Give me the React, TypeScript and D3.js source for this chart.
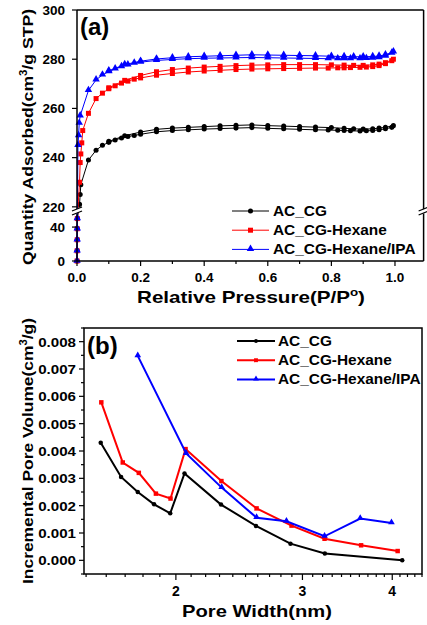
import * as d3 from "d3";

const FONT = "'Liberation Sans', Arial, Helvetica, sans-serif";

// ---- (a) N2 isotherms: adsorption + desorption branches ----
const cgAdsP = [0.0002, 0.0004, 0.0006, 0.0008, 0.001, 0.008, 0.01, 0.012, 0.036, 0.06, 0.08, 0.1, 0.12, 0.14, 0.16, 0.18, 0.2, 0.25, 0.3, 0.35, 0.4, 0.45, 0.5, 0.55, 0.6, 0.65, 0.7, 0.75, 0.79, 0.82, 0.84, 0.86, 0.89, 0.91, 0.93, 0.95, 0.97, 0.99];
const cgAdsQ = [0, 12, 25, 38, 50, 221, 225, 229, 239, 243, 245, 246.2, 247.2, 248, 248.6, 249, 249.5, 250.5, 251, 251.3, 251.6, 251.8, 252, 252.2, 251.9, 251.7, 251.5, 251.3, 251.2, 251.1, 251, 250.9, 250.8, 250.9, 251, 251.3, 251.7, 252.3];
const cgDesP = [0.995, 0.97, 0.95, 0.93, 0.9, 0.87, 0.84, 0.8, 0.75, 0.7, 0.65, 0.6, 0.55, 0.5, 0.45, 0.4, 0.35, 0.3, 0.25, 0.2, 0.15, 0.1];
const cgDesQ = [253, 252.3, 252, 251.7, 251.6, 251.7, 251.9, 252.2, 252.4, 252.6, 252.8, 253, 253.3, 253.1, 252.9, 252.6, 252.3, 252, 251.5, 250.4, 248.9, 246.6];

const hexAdsP = [0.0002, 0.0004, 0.0006, 0.0008, 0.001, 0.008, 0.01, 0.012, 0.015, 0.018, 0.036, 0.06, 0.08, 0.1, 0.12, 0.14, 0.16, 0.18, 0.2, 0.25, 0.3, 0.35, 0.4, 0.45, 0.5, 0.55, 0.6, 0.65, 0.7, 0.75, 0.79, 0.82, 0.84, 0.86, 0.89, 0.91, 0.93, 0.95, 0.97, 0.99];
const hexAdsQ = [0, 12, 25, 38, 50, 230, 238, 241.5, 246, 251, 258, 264, 266.2, 268, 269.2, 270.3, 271.1, 271.9, 272.4, 273.5, 274.2, 274.8, 275.2, 275.5, 275.8, 276, 276.1, 276.2, 276.3, 276.4, 276.4, 276.5, 276.5, 276.6, 276.7, 276.8, 277, 277.4, 278.2, 279.4];
const hexDesP = [0.995, 0.97, 0.95, 0.93, 0.9, 0.87, 0.84, 0.8, 0.75, 0.7, 0.65, 0.6, 0.55, 0.5, 0.45, 0.4, 0.35, 0.3, 0.25, 0.2, 0.15, 0.1];
const hexDesQ = [280, 278.6, 278, 277.7, 277.5, 277.5, 277.6, 277.7, 277.8, 277.8, 277.8, 277.7, 277.6, 277.4, 277.1, 276.8, 276.4, 275.8, 274.9, 273.4, 271.4, 268.4];

const ipaAdsP = [0.0002, 0.0004, 0.0006, 0.0008, 0.001, 0.003, 0.005, 0.007, 0.01, 0.036, 0.06, 0.08, 0.1, 0.12, 0.14, 0.16, 0.18, 0.2, 0.25, 0.3, 0.35, 0.4, 0.45, 0.5, 0.55, 0.6, 0.65, 0.7, 0.75, 0.79, 0.82, 0.84, 0.86, 0.89, 0.91, 0.93, 0.95, 0.97, 0.99];
const ipaAdsQ = [0, 12, 25, 38, 50, 245, 249, 254, 257, 267.3, 271.6, 273.6, 275, 276.1, 277, 277.7, 278.4, 278.8, 279.5, 279.9, 280.2, 280.4, 280.5, 280.6, 280.7, 280.6, 280.5, 280.4, 280.3, 280.2, 280.2, 280.2, 280.2, 280.2, 280.3, 280.4, 280.7, 281.3, 282.5];
const ipaDesP = [0.995, 0.97, 0.95, 0.93, 0.9, 0.87, 0.84, 0.8, 0.75, 0.7, 0.65, 0.6, 0.55, 0.5, 0.45, 0.4, 0.35, 0.3, 0.25, 0.2, 0.15, 0.1];
const ipaDesQ = [283, 281.8, 281.3, 281.1, 281, 281, 281.1, 281.2, 281.4, 281.5, 281.6, 281.7, 281.8, 281.6, 281.4, 281.2, 281, 280.6, 280.1, 279.2, 277.8, 275.3];

const aXTicks = [0, 0.2, 0.4, 0.6, 0.8, 1.0];
const aXMinor = [0.1, 0.3, 0.5, 0.7, 0.9];
const aYTicks = [220, 240, 260, 280, 300, 0, 40];

// ---- (b) pore size distribution ----
const cgW = [1.572, 1.678, 1.77, 1.865, 1.964, 2.056, 2.311, 2.585, 2.887, 3.223, 4.13];
const cgV = [0.0043, 0.00305, 0.0025, 0.00205, 0.00172, 0.00318, 0.00204, 0.00126, 0.00061, 0.00025, 0.0];
const hexW = [1.575, 1.687, 1.776, 1.876, 1.966, 2.063, 2.314, 2.59, 2.897, 3.22, 3.62, 4.07];
const hexV = [0.00578, 0.00358, 0.0032, 0.00244, 0.00226, 0.00407, 0.0029, 0.0019, 0.00127, 0.00079, 0.00055, 0.00034];
const ipaW = [1.77, 2.067, 2.316, 2.59, 2.85, 3.22, 3.61, 3.99];
const ipaV = [0.00748, 0.00391, 0.00266, 0.00156, 0.00143, 0.00088, 0.00153, 0.00137];

const bXTicks = [2, 3, 4];
const bXMinor = [1.5, 1.6, 1.7, 1.8, 1.9, 2.1, 2.2, 2.3, 2.4, 2.5, 2.6, 2.7, 2.8, 2.9, 3.1, 3.2, 3.3, 3.4, 3.5, 3.6, 3.7, 3.8, 3.9, 4.1, 4.2, 4.3, 4.4];
const bYTicks = [0, 0.001, 0.002, 0.003, 0.004, 0.005, 0.006, 0.007, 0.008];

const seriesNames = ["AC_CG", "AC_CG-Hexane", "AC_CG-Hexane/IPA"];
const colors = ["#000000", "#ff0000", "#0000ff"];
const shapes = [d3.symbolCircle, d3.symbolSquare, d3.symbolTriangle];

const zip = (xs: number[], ys: number[]) => xs.map((x, i) => [x, ys[i]] as [number, number]);

function Marker({ x, y, i, size }: { x: number; y: number; i: number; size: number }) {
  const area = i === 0 ? size : i === 1 ? size * 1.25 : size * 1.2;
  return (
    <path
      d={d3.symbol(shapes[i], area)() as string}
      transform={`translate(${x},${i === 2 ? y - 0.5 : y})`}
      fill={colors[i]}
    />
  );
}

function BreakMark({ x, y }: { x: number; y: number }) {
  return (
    <g>
      <polygon points={`${x - 5},${y + 1} ${x + 5},${y - 3} ${x + 5},${y + 1} ${x - 5},${y + 5}`} fill="#fff" />
      <line x1={x - 5} y1={y + 1} x2={x + 5} y2={y - 3} stroke="#000" strokeWidth={1.3} />
      <line x1={x - 5} y1={y + 5} x2={x + 5} y2={y + 1} stroke="#000" strokeWidth={1.3} />
    </g>
  );
}

// horizontally stretched text, like the exported figure
function SText({ x, y, sx, anchor, size, children }: any) {
  return (
    <text
      transform={`translate(${x},${y}) scale(${sx},1)`}
      textAnchor={anchor}
      fontSize={size}
      dy="0.36em"
    >
      {children}
    </text>
  );
}

export default function App() {
  // panel (a)
  const xA = d3.scaleLinear().domain([0, 1.09]).range([77, 423.6]);
  const yA = d3.scaleLinear().domain([0, 56, 219, 300]).range([261, 213.5, 209.3, 10]);
  const lineA = d3
    .line<[number, number]>()
    .x((d) => xA(d[0]))
    .y((d) => yA(d[1]));
  const aSeries = [
    [zip(cgAdsP, cgAdsQ), zip(cgDesP, cgDesQ)],
    [zip(hexAdsP, hexAdsQ), zip(hexDesP, hexDesQ)],
    [zip(ipaAdsP, ipaAdsQ), zip(ipaDesP, ipaDesQ)],
  ];
  const aL = xA.range()[0];
  const aR = xA.range()[1];
  const aT = 10;
  const aB = 261;

  // panel (b)
  const xB = d3.scaleLog().domain([1.49, 4.4]).range([84, 422]);
  const yB = d3.scaleLinear().domain([-0.0005, 0.0085]).range([574, 328]);
  const lineB = d3
    .line<[number, number]>()
    .x((d) => xB(d[0]))
    .y((d) => yB(d[1]));
  const bSeries = [zip(cgW, cgV), zip(hexW, hexV), zip(ipaW, ipaV)];
  const [bL, bR] = xB.range();
  const [bB, bT] = yB.range();

  return (
    <svg
      width={427}
      height={625}
      style={{ position: "absolute", left: 0, top: 0, background: "#fff" }}
      fontFamily={FONT}
      fontWeight="bold"
    >
      {/* ===== panel (a) ===== */}
      {aSeries.map((branches, i) => (
        <g key={"a" + i}>
          {branches.map((pts, j) => (
            <g key={j}>
              <path d={lineA(pts) as string} fill="none" stroke={colors[i]} strokeWidth={1} />
              {pts.map((p, k) => (
                <Marker key={k} x={xA(p[0])} y={yA(p[1])} i={i} size={20} />
              ))}
            </g>
          ))}
        </g>
      ))}
      {/* frame */}
      <line x1={aL} y1={aT} x2={aR} y2={aT} stroke="#000" strokeWidth={1.5} />
      <line x1={aL} y1={aB} x2={aR} y2={aB} stroke="#000" strokeWidth={1.5} />
      <line x1={aL} y1={aT} x2={aL} y2={yA(219)} stroke="#000" strokeWidth={1.5} />
      <line x1={aL} y1={yA(56)} x2={aL} y2={aB} stroke="#000" strokeWidth={1.5} />
      <line x1={aR} y1={aT} x2={aR} y2={yA(219)} stroke="#000" strokeWidth={1.5} />
      <line x1={aR} y1={yA(56)} x2={aR} y2={aB} stroke="#000" strokeWidth={1.5} />
      <BreakMark x={aL} y={210} />
      <BreakMark x={aR} y={210} />
      {aXTicks.map((t) => (
        <g key={"ax" + t}>
          <line x1={xA(t)} x2={xA(t)} y1={aB} y2={aB + 5} stroke="#000" strokeWidth={1.2} />
          <text x={xA(t)} y={aB + 21} textAnchor="middle" fontSize={13.5}>
            {t.toFixed(1)}
          </text>
        </g>
      ))}
      {aXMinor.map((t) => (
        <line key={"axm" + t} x1={xA(t)} x2={xA(t)} y1={aB} y2={aB + 3} stroke="#000" strokeWidth={1.2} />
      ))}
      {aYTicks.map((t) => (
        <g key={"ay" + t}>
          <line x1={aL - 5} x2={aL} y1={yA(t)} y2={yA(t)} stroke="#000" strokeWidth={1.2} />
          <text x={aL - 12} y={yA(t)} dy="0.36em" textAnchor="end" fontSize={13.5}>
            {t}
          </text>
        </g>
      ))}
      <text x={80} y={35} fontSize={24}>
        (a)
      </text>
      <text x={251} y={303} textAnchor="middle" fontSize={17} textLength={228} lengthAdjust="spacingAndGlyphs">
        Relative Pressure(P/P<tspan dy={-7} fontSize={11}>o</tspan>
        <tspan dy={7}>)</tspan>
      </text>
      <text
        transform={`translate(33,137) rotate(-90)`}
        textAnchor="middle"
        fontSize={15.5}
        textLength={256}
        lengthAdjust="spacingAndGlyphs"
      >
        Quantity Adsorbed(cm<tspan dy={-6} fontSize={10}>3</tspan>
        <tspan dy={6}>/g STP)</tspan>
      </text>
      {seriesNames.map((n, i) => {
        const y = 211 + i * 19.2;
        return (
          <g key={"la" + i}>
            <line x1={232} x2={269} y1={y} y2={y} stroke={colors[i]} strokeWidth={1} />
            <Marker x={250.5} y={y} i={i} size={20} />
            <SText x={273} y={y} sx={1.1} anchor="start" size={14}>
              {n}
            </SText>
          </g>
        );
      })}

      {/* ===== panel (b) ===== */}
      {bSeries.map((pts, i) => (
        <g key={"b" + i}>
          <path d={lineB(pts) as string} fill="none" stroke={colors[i]} strokeWidth={2} />
          {pts.map((p, k) => (
            <Marker key={k} x={xB(p[0])} y={yB(p[1])} i={i} size={16} />
          ))}
        </g>
      ))}
      <rect x={bL} y={bT} width={bR - bL} height={bB - bT} fill="none" stroke="#000" strokeWidth={1.5} />
      {bXTicks.map((t) => (
        <g key={"bx" + t}>
          <line x1={xB(t)} x2={xB(t)} y1={bB} y2={bB + 6} stroke="#000" strokeWidth={1.2} />
          <text x={xB(t)} y={bB + 22} textAnchor="middle" fontSize={14}>
            {t}
          </text>
        </g>
      ))}
      {bXMinor.map((t) => (
        <line key={"bxm" + t} x1={xB(t)} x2={xB(t)} y1={bB} y2={bB + 3} stroke="#000" strokeWidth={1.2} />
      ))}
      {bYTicks.map((t) => (
        <g key={"by" + t}>
          <line x1={bL - 5} x2={bL} y1={yB(t)} y2={yB(t)} stroke="#000" strokeWidth={1.2} />
          <line x1={bL - 3} x2={bL} y1={yB(t + 0.0005)} y2={yB(t + 0.0005)} stroke="#000" strokeWidth={1.2} />
          <SText x={bL - 8} y={yB(t)} sx={1.12} anchor="end" size={13.5}>
            {t.toFixed(3)}
          </SText>
        </g>
      ))}
      <line x1={bL - 3} x2={bL} y1={yB(-0.0005)} y2={yB(-0.0005)} stroke="#000" strokeWidth={1.2} />
      <text x={87} y={354} fontSize={24}>
        (b)
      </text>
      <text x={257} y={617} textAnchor="middle" fontSize={17} textLength={150} lengthAdjust="spacingAndGlyphs">
        Pore Width(nm)
      </text>
      <text
        transform={`translate(33,451) rotate(-90)`}
        textAnchor="middle"
        fontSize={15.5}
        textLength={266}
        lengthAdjust="spacingAndGlyphs"
      >
        Incremental Pore Volume(cm<tspan dy={-6} fontSize={10}>3</tspan>
        <tspan dy={6}>/g)</tspan>
      </text>
      {seriesNames.map((n, i) => {
        const y = 341 + i * 19.2;
        return (
          <g key={"lb" + i}>
            <line x1={237} x2={275} y1={y} y2={y} stroke={colors[i]} strokeWidth={2} />
            <Marker x={256} y={y} i={i} size={12} />
            <SText x={278} y={y} sx={1.1} anchor="start" size={14}>
              {n}
            </SText>
          </g>
        );
      })}
    </svg>
  );
}
